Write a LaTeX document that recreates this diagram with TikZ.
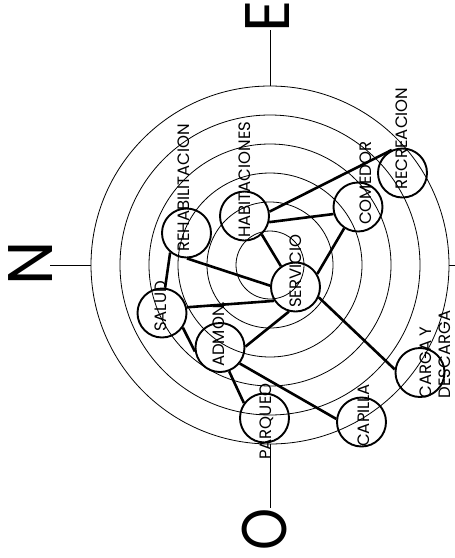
\documentclass[tikz,border=0pt]{standalone}
\usepackage{fontspec}
\setmainfont{Poppins}
\begin{document}
\begin{tikzpicture}[x=1pt,y=-1pt,
  ring/.style={draw, line width=0.8pt},
  zone/.style={circle, draw, line width=1.9pt, minimum size=49pt, inner sep=0pt},
  link/.style={line width=2.6pt},
  lab/.style={rotate=90, anchor=west, inner sep=0pt, font=\fontsize{16.5}{19}\selectfont},
  cardinal/.style={rotate=90, inner sep=0pt, font=\fontsize{63}{70}\selectfont},
  tick/.style={line width=0.8pt}]
\useasboundingbox (0,0) rectangle (455,558);
\coordinate (c) at (270,265);
\foreach \r in {34,63,92,121,150,179} \draw[ring] (c) circle[radius=\r pt];
% compass
\coordinate (eRing) at (270,86);
\coordinate (eEnd) at (270,30);
\coordinate (nRing) at (91,265);
\coordinate (nEnd) at (50,265);
\coordinate (oRing) at (270,444);
\coordinate (oEnd) at (270,508);
\coordinate (sRing) at (449,265);
\coordinate (sEnd) at (460,265);
\draw[tick] (eRing) -- (eEnd);
\draw[tick] (nRing) -- (nEnd);
\draw[tick] (oRing) -- (oEnd);
\draw[tick] (sRing) -- (sEnd);
\node[cardinal] (E) at (268,16.5) {E};
\node[cardinal] (N) at (30.5,263) {N};
\node[cardinal, xscale=0.85] (O) at (264.5,529) {O};
% zones
\node[zone] (rec) at (402.5,173) {};
\node[zone] (com) at (358,207) {};
\node[zone] (hab) at (244.5,216) {};
\node[zone] (reh) at (186.5,233) {};
\node[zone] (ser) at (295.5,287) {};
\node[zone] (sal) at (162,313) {};
\node[zone] (adm) at (220,347.5) {};
\node[zone] (par) at (264.5,418) {};
\node[zone] (cap) at (361.5,422) {};
\node[zone] (car) at (420,372.5) {};
% links
\draw[link] (hab.10) -- (rec.115);
\draw[link] (hab.-14) -- (com.196);
\draw[link] (hab.-47) -- (ser.125);
\draw[link] (com.237) -- (ser.31);
\draw[link] (reh.-89) -- (ser.177);
\draw[link] (reh.-130) -- (sal.83);
\draw[link] (sal.13) -- (ser.213);
\draw[link] (sal.-35) -- (adm.189);
\draw[link] (adm.2) -- (ser.-105);
\draw[link] (adm.-69) -- (par.144);
\draw[link] (adm.-39) -- (cap.173);
\draw[link] (ser.-24) -- (car.173);
% labels
\node[lab] (lrec) at (401.5,190) {RECREACION};
\node[lab] (lcom) at (366,225) {COMEDOR};
\node[lab] (lhab) at (244.5,238) {HABITACIONES};
\node[lab] (lreh) at (183.5,252) {REHABILITACION};
\node[lab] (lser) at (296,308) {SERVICIO};
\node[lab] (lsal) at (161,332) {SALUD};
\node[lab] (ladm) at (218.5,367) {ADMON.};
\node[lab] (lpar) at (266.5,460) {PARQUEO};
\node[lab] (lcap) at (364,447) {CAPILLA};
\node[lab, align=left] (lcar) at (435,398.5) {CARGA Y\\DESCARGA};
\end{tikzpicture}
\end{document}
